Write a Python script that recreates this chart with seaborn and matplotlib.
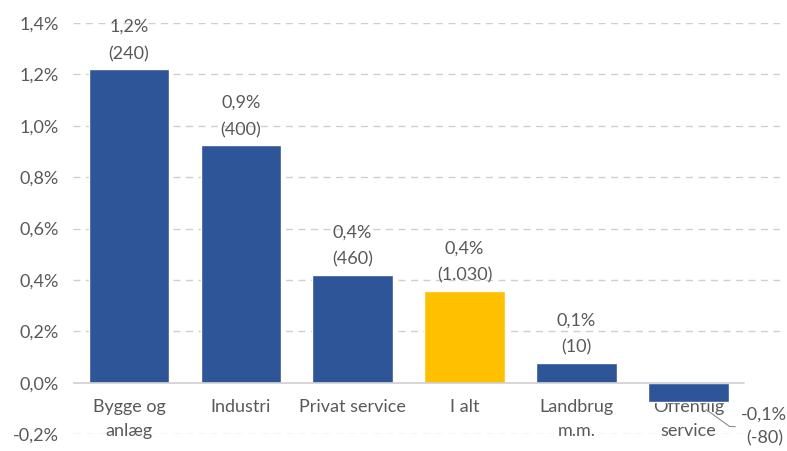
import matplotlib
matplotlib.use("Agg")
import matplotlib.pyplot as plt
import seaborn as sns
import pandas as pd
from matplotlib.ticker import FuncFormatter

# === Data ===
categories = ["Bygge og\nanlæg", "Industri", "Privat service", "I alt", "Landbrug\nm.m.", "Offentlig\nservice"]
values = [1.22, 0.925, 0.42, 0.358, 0.078, -0.074]
pct_labels = ["1,2%", "0,9%", "0,4%", "0,4%", "0,1%", "-0,1%"]
count_labels = ["(240)", "(400)", "(460)", "(1.030)", "(10)", "(-80)"]
bar_colors = ["#2E5597", "#2E5597", "#2E5597", "#FFC000", "#2E5597", "#2E5597"]

df = pd.DataFrame({"cat": categories, "val": values})

sns.set_style("white")
plt.rcParams["font.family"] = ["Lato", "DejaVu Sans"]
text_col = "#595959"
fs = 13

fig = plt.figure(figsize=(7.87, 4.51), dpi=100)
ax = fig.add_axes([73 / 787, 1 - 434 / 451, (780 - 73) / 787, (434 - 23) / 451])

sns.barplot(data=df, x="cat", y="val", hue="cat", palette=bar_colors,
            legend=False, width=0.72, saturation=1, ax=ax)

ax.set_ylim(-0.2, 1.4)
ax.set_xlim(-0.5, 5.82)
ax.set_yticks([-0.2, 0, 0.2, 0.4, 0.6, 0.8, 1.0, 1.2, 1.4])
ax.yaxis.set_major_formatter(FuncFormatter(lambda v, p: f"{v:.1f}%".replace(".", ",")))

# dashed gridlines, solid zero line
for yv in [-0.2, 0.2, 0.4, 0.6, 0.8, 1.0, 1.2, 1.4]:
    ax.axhline(yv, color="#CFCFCF", lw=1, ls=(0, (5, 4)), zorder=0)
ax.plot([-0.5, 5.5], [0, 0], color="#CFCFCF", lw=1.2, zorder=3)

# category labels sit just under the zero line
ax.spines["bottom"].set_position(("data", 0))
for s in ax.spines.values():
    s.set_visible(False)
ax.set_xlabel("")
ax.set_ylabel("")
ax.tick_params(axis="both", length=0, labelsize=fs, colors=text_col)
ax.tick_params(axis="x", pad=12)
ax.tick_params(axis="y", pad=10)
for lbl in ax.get_xticklabels():
    lbl.set_linespacing(1.6)

# data labels
for i, (v, p, c) in enumerate(zip(values, pct_labels, count_labels)):
    if v >= 0:
        ax.annotate(f"{p}\n{c}", xy=(i, v), xytext=(0, 5), textcoords="offset points",
                    ha="center", va="bottom", fontsize=fs, color=text_col, linespacing=1.85)
    else:
        ax.annotate(f"{p}\n{c}", xy=(i + 0.68, -0.171), ha="center", va="center",
                    fontsize=fs, color=text_col, linespacing=1.55)
        # leader line from bar to label
        ax.plot([i + 0.16, i + 0.37, i + 0.42], [v - 0.031, -0.171, -0.171],
                color="#8C8C8C", lw=0.8, zorder=4)

fig.savefig("out.png", dpi=100)
